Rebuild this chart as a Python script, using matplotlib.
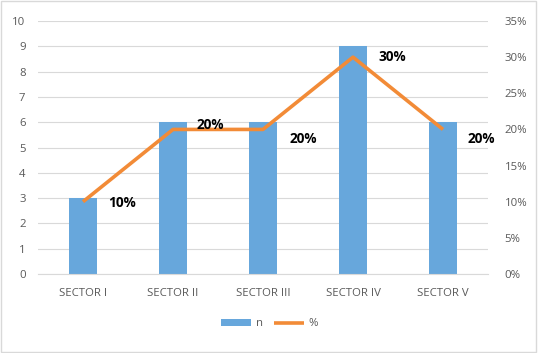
import numpy as np
import matplotlib
matplotlib.use("Agg")
import matplotlib.pyplot as plt
from matplotlib.patches import Rectangle

# Datos
sectores = ["SECTOR I", "SECTOR II", "SECTOR III", "SECTOR IV", "SECTOR V"]
n = [3, 6, 6, 9, 6]
pct = [10, 20, 20, 30, 20]

AZUL = "#67A7DC"
NARANJA = "#F28B37"
GRIS = "#595959"

plt.rcParams["font.family"] = ["Open Sans", "DejaVu Sans"]

fig = plt.figure(figsize=(5.39, 3.53), dpi=100)
ax = fig.add_axes([38 / 539, 1 - 274 / 353, 450 / 539, 253 / 353])
ax2 = ax.twinx()

x = np.arange(len(sectores))
ax.bar(x, n, width=0.31, color=AZUL, zorder=2, label="n")
ax.set_ylim(0, 10)
ax.set_yticks(range(0, 11))
ax.set_xlim(-0.5, len(sectores) - 0.5)
ax.set_xticks(x)
ax.set_xticklabels(sectores)
ax.yaxis.grid(True, color="#D9D9D9", linewidth=0.8, zorder=0)
ax.set_axisbelow(True)

ax2.plot(x, pct, color=NARANJA, linewidth=2.6, zorder=3, label="%",
         solid_capstyle="butt")
ax2.set_ylim(0, 35)
ax2.set_yticks(range(0, 36, 5))
ax2.set_yticklabels([f"{v}%" for v in range(0, 36, 5)])

# Etiquetas de datos
offsets = [(18, -1), (17, 3), (19, -7), (18, 0), (18, -7)]
for xi, p, (dx, dy) in zip(x, pct, offsets):
    ax2.annotate(f"{p}%", (xi, p), xytext=(dx, dy), textcoords="offset points",
                 ha="left", va="center", fontsize=9.8, fontweight="bold",
                 color="black")

for a in (ax, ax2):
    for s in a.spines.values():
        s.set_visible(False)
    a.tick_params(length=0, labelsize=8.2, colors=GRIS)
ax.spines["bottom"].set_visible(True)
ax.spines["bottom"].set_color("#D9D9D9")
ax.tick_params(axis="y", pad=9)
ax2.tick_params(axis="y", pad=12)
ax.tick_params(axis="x", pad=10)

h1, l1 = ax.get_legend_handles_labels()
h2, l2 = ax2.get_legend_handles_labels()
fig.legend(h1 + h2, l1 + l2, loc="center", bbox_to_anchor=(0.5, 1 - 324 / 353),
           ncol=2, frameon=False, fontsize=8.2, labelcolor=GRIS,
           handlelength=2.6, handleheight=0.5, columnspacing=1.0,
           handletextpad=0.4)

fig.patches.append(Rectangle((0.002, 0.003), 0.993, 0.994, transform=fig.transFigure,
                             fill=False, edgecolor="#D9D9D9", linewidth=1))

fig.savefig("out.png", dpi=100)
